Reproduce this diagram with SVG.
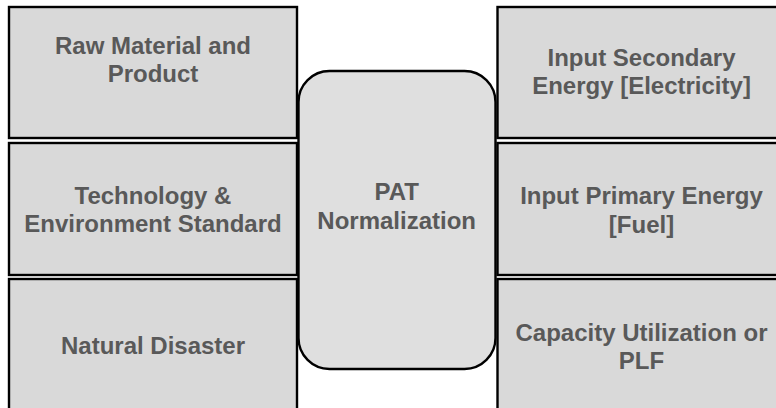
<svg xmlns="http://www.w3.org/2000/svg" width="776" height="408" viewBox="0 0 776 408">
  <style>
    .box { fill: #d9d9d9; stroke: #000; stroke-width: 2.4; }
    .hub { fill: #dfdfdf; stroke: #000; stroke-width: 2.4; }
    .lbl { font-family: "Liberation Sans", Arial, sans-serif; font-weight: bold; font-size: 24px; fill: #595959; text-anchor: middle; }
  </style>
  <rect width="776" height="408" fill="#fff"/>

  <!-- left column -->
  <g id="raw-material">
    <rect class="box" x="9" y="7" width="288" height="131"/>
    <text class="lbl" x="153" y="53.5">Raw Material and</text>
    <text class="lbl" x="153" y="81.8">Product</text>
  </g>
  <g id="technology">
    <rect class="box" x="9" y="143" width="288" height="132"/>
    <text class="lbl" x="153" y="203.5">Technology &amp;</text>
    <text class="lbl" x="153" y="231.8">Environment Standard</text>
  </g>
  <g id="natural-disaster">
    <rect class="box" x="9" y="279" width="288" height="140"/>
    <text class="lbl" x="153" y="354.2">Natural Disaster</text>
  </g>

  <!-- right column -->
  <g id="secondary-energy">
    <rect class="box" x="497.5" y="7" width="288" height="131"/>
    <text class="lbl" x="641.5" y="65.8">Input Secondary</text>
    <text class="lbl" x="641.5" y="94.2">Energy [Electricity]</text>
  </g>
  <g id="primary-energy">
    <rect class="box" x="497.5" y="143" width="288" height="132"/>
    <text class="lbl" x="641.5" y="204.2">Input Primary Energy</text>
    <text class="lbl" x="641.5" y="233.2">[Fuel]</text>
  </g>
  <g id="capacity">
    <rect class="box" x="497.5" y="279" width="288" height="140"/>
    <text class="lbl" x="641.5" y="340.8">Capacity Utilization or</text>
    <text class="lbl" x="641.5" y="369.2">PLF</text>
  </g>

  <!-- central hub -->
  <g id="pat-normalization">
    <rect class="hub" x="298.5" y="71" width="197" height="298" rx="31" ry="31"/>
    <text class="lbl" x="396.7" y="200.2">PAT</text>
    <text class="lbl" x="396.7" y="228.5">Normalization</text>
  </g>

  <g id="connectors"/>
</svg>
